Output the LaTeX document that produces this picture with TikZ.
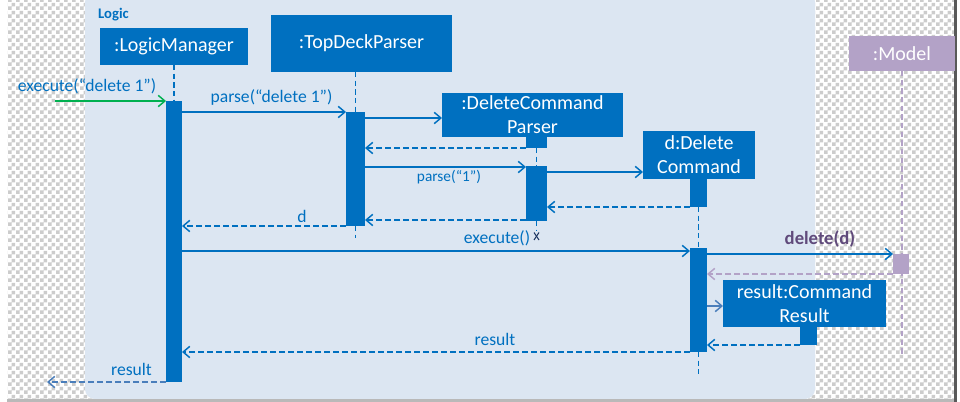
\documentclass[tikz,border=0pt]{standalone}
\usepackage{fontspec}
\setmainfont{Carlito}
\usetikzlibrary{arrows.meta,calc,patterns}
\definecolor{mblue}{HTML}{0070C0}
\definecolor{framec}{HTML}{DCE6F2}
\definecolor{mgreen}{HTML}{00B050}
\definecolor{mpurple}{HTML}{B3A2C7}
\definecolor{dpurple}{HTML}{604A7B}
\definecolor{sblue}{HTML}{4A7EBB}
\definecolor{chk}{HTML}{CCCCCC}
\definecolor{xnavy}{HTML}{1F3864}
\pgfdeclarepatternformonly{chkpat}{\pgfpointorigin}{\pgfqpoint{6pt}{6pt}}{\pgfqpoint{6pt}{6pt}}{%
  \pgfpathrectangle{\pgfpointorigin}{\pgfqpoint{3pt}{3pt}}%
  \pgfpathrectangle{\pgfqpoint{3pt}{3pt}}{\pgfqpoint{3pt}{3pt}}%
  \pgfusepath{fill}}
\tikzset{
  obj/.style={fill=mblue, text=white, font=\fontsize{15}{18}\selectfont, align=center, inner sep=0pt, outer sep=0pt},
  actbar/.style={fill=mblue, inner sep=0pt, outer sep=0pt},
  life/.style={mblue, line width=1.1pt, dash pattern=on 4pt off 2.5pt},
  msg/.style={mblue, line width=1.1pt, -{Straight Barb[length=5pt,width=8.5pt,line width=1.1pt]}},
  ret/.style={msg, dash pattern=on 4.5pt off 2.25pt},
  lab/.style={text=mblue, font=\fontsize{13.2}{16}\selectfont, inner sep=0pt},
  smalllab/.style={text=mblue, font=\fontsize{11.5}{14}\selectfont, inner sep=0pt}
}
\begin{document}
\begin{tikzpicture}[x=0.75pt,y=-0.75pt]
\useasboundingbox (0,0) rectangle (960,402);
% background
\fill[white] (0,0) rectangle (960,402);
\fill[pattern=chkpat, pattern color=chk] (7,0) rectangle (955,399);
\fill[gray!55] (7,399) rectangle (955,402);
\fill[black!65] (954,0) rectangle (957,402);
\fill[framec, rounded corners=7.5pt] (85,-8) rectangle (815,399);
\node[text=mblue, font=\bfseries\fontsize{11}{13}\selectfont, inner sep=0pt] (logic) at (113.5,15) {Logic};

% objects
\node[obj, minimum width=111pt, minimum height=27.75pt] (lm) at (174,46.5) {:LogicManager};
\node[obj, minimum width=135.75pt, minimum height=42.75pt] (tdp) at (361.5,43.5) {:TopDeckParser};
\node[obj, minimum width=135.75pt, minimum height=33pt] (dcp) at (532.5,115) {:DeleteCommand\\Parser};
\node[obj, minimum width=84pt, minimum height=36pt] (dc) at (699,155) {d:Delete\\Command};
\node[obj, fill=mpurple, minimum width=79.5pt, minimum height=26.25pt] (md) at (902,53.5) {:Model};
\node[obj, minimum width=122.25pt, minimum height=35.25pt] (rb) at (804.5,303.5) {result:Command\\Result};

% end points of lifelines
\coordinate (tdpend) at (355.5,238);
\coordinate (dcpend) at (536.5,231);
\coordinate (dcend) at (698.5,374);
\coordinate (mend) at (902,355);
\coordinate (m1s) at (55,101);
\coordinate (m16e) at (47,382);

% model lifeline (behind activation)
\draw[life, mpurple] (md.south) -- (mend);

% activation bars
\node[actbar, minimum width=12pt, minimum height=210.75pt] (lma) at (174,241.5) {};
\node[actbar, minimum width=14.25pt, minimum height=85.5pt] (tdpa) at (355.5,169) {};
\node[actbar, minimum width=15.75pt, minimum height=8.25pt] (dcpa1) at (536.5,142.5) {};
\node[actbar, minimum width=15.75pt, minimum height=41.25pt] (dcpa2) at (536.5,193.5) {};
\node[actbar, minimum width=12.75pt, minimum height=21pt] (dca1) at (698.5,193) {};
\node[actbar, minimum width=12.75pt, minimum height=78pt] (dca2) at (698.5,300) {};
\node[actbar, fill=mpurple, minimum width=12pt, minimum height=15pt] (ma) at (901,264) {};
\node[actbar, minimum width=12.75pt, minimum height=13.5pt] (ra) at (808.5,336) {};

% lifelines
\draw[life] (lm.south) -- (lma.north);
\draw[life] (tdpa.north |- tdp.south) -- (tdpa.north);
\draw[life] (tdpa.south) -- (tdpend);
\draw[life] (dcpa1.south) -- (dcpa2.north);
\draw[life] (dcpa2.south) -- (dcpend);
\draw[xnavy, line width=0.8pt] ($(dcpend)+(-2.5,1.5)$) -- ($(dcpend)+(2.5,9)$);
\draw[xnavy, line width=0.8pt] ($(dcpend)+(2.5,1.5)$) -- ($(dcpend)+(-2.5,9)$);
\draw[life] (dca1.south) -- (dca2.north);
\draw[life] (dca2.south) -- (dcend);

% messages
\draw[msg, mgreen] (m1s) -- (lma.north west);
\node[lab] (l1) at (87,86) {execute(“delete 1”)};
\draw[msg] ($(lma.north east)+(0,11)$) -- (tdpa.north west);
\node[lab] (l2) at (271.5,97) {parse(“delete 1”)};
\draw[msg] ($(tdpa.north east)+(0,6)$) -- ($(dcp.west)+(0,3)$);
\draw[ret] (dcpa1.south west) -- ($(tdpa.north east)+(0,36)$);
\draw[msg] ($(tdpa.north east)+(0,55)$) -- ($(dcpa2.north west)+(0,1)$);
\node[smalllab] (l5) at (449,177) {parse(“1”)};
\draw[msg] ($(dcpa2.north east)+(0,6)$) -- ($(dc.south west)+(0,-7)$);
\draw[ret] (dca1.south west) -- ($(dcpa2.north east)+(0,41)$);
\draw[ret] ($(dcpa2.south west)+(0,-1)$) -- ($(tdpa.north east)+(0,108)$);
\draw[ret] (tdpa.south west) -- ($(lma.north east)+(0,125)$);
\node[lab] (l9) at (302,216) {d};
\draw[msg] ($(lma.north east)+(0,150)$) -- ($(dca2.north west)+(0,3)$);
\node[lab] (l10) at (497,238) {execute()};
\draw[msg] ($(dca2.north east)+(0,6)$) -- (ma.north west);
\node[text=dpurple, font=\bfseries\fontsize{14}{16}\selectfont, inner sep=0pt] (l11) at (820,239) {delete(d)};
\draw[ret, mpurple] (ma.south west) -- ($(dca2.north east)+(0,26)$);
\draw[msg, sblue] ($(dca2.north east)+(0,58)$) -- ($(rb.west)+(0,2.5)$);
\draw[ret] (ra.south west) -- ($(dca2.north east)+(0,97)$);
\draw[ret] (dca2.south west) -- ($(lma.north east)+(0,251)$);
\node[lab] (l15) at (495,339) {result};
\draw[ret, sblue] (lma.south west) -- (m16e);
\node[lab] (l16) at (131.5,369) {result};
\end{tikzpicture}
\end{document}
